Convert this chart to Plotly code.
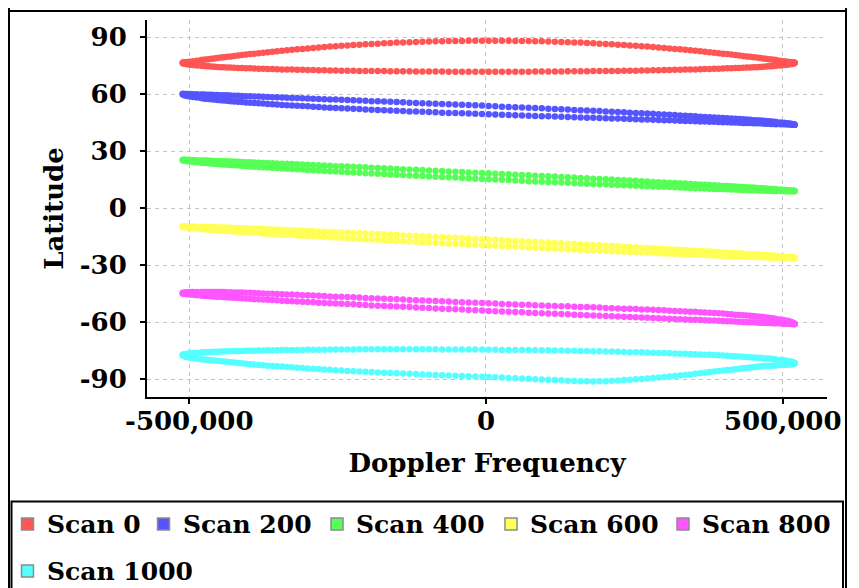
import plotly.graph_objects as go

# Doppler frequency of each sample (one sweep, right tip -> left tip)
DOPPLER = [520000, 519500, 518000, 515600, 512200, 507800, 502400, 496100, 488900, 480800,
           471700, 461800, 450900, 439300, 426800, 413500, 399400, 384600, 369000, 352800,
           335900, 318300, 300200, 281500, 262300, 242500, 222400, 201800, 180800, 159500,
           137900, 116100, 94000, 71800, 49400, 27000, 4500, -18000, -40400, -62800,
           -85000, -107100, -128900, -150500, -171800, -192800, -213400, -233500, -253300, -272500,
           -291200, -309300, -326900, -343800, -360000, -375600, -390400, -404500, -417800, -430300,
           -441900, -452800, -462700, -471800, -479900, -487100, -493400, -498800, -503200, -506600,
           -509000, -510500, -511000]
# extra samples in the sparser middle part of the sweep
DOPPLER_MID = [485000, 476300, 466800, 456500, 445200, 433100, 420200, 406500,
               392100, 376900, 361100, 344400, 327200, 309300, 290900, 271900, 252500, 232500,
               212100, 191300, 170200, 148800, 127000, 105100, 82900, 60600, 38200, 15700,
               -6700, -29200, -51600, -73900, -96100, -118000, -139800, -161200, -182300, -203100,
               -223500, -243500, -262900, -281900, -300300, -318200, -335400, -352100, -367900, -383100,
               -397500, -411200, -424100, -436200, -447500, -457800, -467300, -476000]

SCAN0_UPPER = [76.6, 76.6, 76.7, 76.8, 77.0, 77.1, 77.4, 77.6, 78.0, 78.3, 78.7, 79.1, 79.5, 79.9, 80.4,
               80.9, 81.4, 81.9, 82.4, 82.9, 83.4, 83.9, 84.4, 84.9, 85.3, 85.7, 86.1, 86.5, 86.8, 87.2,
               87.4, 87.7, 87.9, 88.0, 88.1, 88.2, 88.2, 88.2, 88.1, 88.0, 87.9, 87.7, 87.4, 87.2, 86.8,
               86.5, 86.1, 85.7, 85.3, 84.9, 84.4, 83.9, 83.4, 82.9, 82.4, 81.9, 81.4, 80.9, 80.4, 79.9,
               79.5, 79.1, 78.7, 78.3, 78.0, 77.6, 77.4, 77.1, 77.0, 76.8, 76.7, 76.6, 76.6]
SCAN0_UPPER_MID = [78.15, 78.5, 78.9, 79.3, 79.7, 80.15, 80.65, 81.15,
                   81.65, 82.15, 82.65, 83.15, 83.65, 84.15, 84.65, 85.1, 85.5, 85.9, 86.3, 86.65, 87.0, 87.3,
                   87.55, 87.8, 87.95, 88.05, 88.15, 88.2, 88.2, 88.15, 88.05, 87.95, 87.8, 87.55, 87.3, 87.0,
                   86.65, 86.3, 85.9, 85.5, 85.1, 84.65, 84.15, 83.65, 83.15, 82.65, 82.15, 81.65,
                   81.15, 80.65, 80.15, 79.7, 79.3, 78.9, 78.5, 78.15]
SCAN0_LOWER = [76.6, 76.4, 76.2, 76.0, 75.8, 75.6, 75.4, 75.2, 75.0, 74.8, 74.6, 74.4, 74.2, 74.1, 73.9,
               73.7, 73.6, 73.4, 73.3, 73.1, 73.0, 72.9, 72.8, 72.6, 72.5, 72.4, 72.3, 72.3, 72.2, 72.1,
               72.1, 72.0, 72.0, 71.9, 71.9, 71.9, 71.9, 71.9, 71.9, 71.9, 72.0, 72.0, 72.1, 72.1, 72.2,
               72.3, 72.3, 72.4, 72.5, 72.6, 72.8, 72.9, 73.0, 73.1, 73.3, 73.4, 73.6, 73.7, 73.9, 74.1,
               74.2, 74.4, 74.6, 74.8, 75.0, 75.2, 75.4, 75.6, 75.8, 76.0, 76.2, 76.4, 76.6]
SCAN0_LOWER_MID = [74.9, 74.7, 74.5, 74.3, 74.15, 74.0, 73.8, 73.65,
                   73.5, 73.35, 73.2, 73.05, 72.95, 72.85, 72.7, 72.55, 72.45, 72.35, 72.3, 72.25, 72.15, 72.1,
                   72.05, 72.0, 71.95, 71.9, 71.9, 71.9, 71.9, 71.9, 71.9, 71.95, 72.0, 72.05, 72.1, 72.15,
                   72.25, 72.3, 72.35, 72.45, 72.55, 72.7, 72.85, 72.95, 73.05, 73.2, 73.35, 73.5,
                   73.65, 73.8, 74.0, 74.15, 74.3, 74.5, 74.7, 74.9]

SCAN200_UPPER = [44.0, 44.1, 44.3, 44.4, 44.6, 44.8, 45.0, 45.2, 45.4, 45.7, 45.9, 46.2, 46.4, 46.7, 47.0,
                 47.2, 47.5, 47.8, 48.1, 48.4, 48.7, 49.1, 49.4, 49.7, 50.0, 50.3, 50.7, 51.0, 51.3, 51.6,
                 52.0, 52.3, 52.6, 52.9, 53.2, 53.5, 53.9, 54.2, 54.5, 54.8, 55.0, 55.3, 55.6, 55.9, 56.2,
                 56.4, 56.7, 57.0, 57.2, 57.4, 57.7, 57.9, 58.1, 58.3, 58.5, 58.7, 58.9, 59.0, 59.2, 59.4,
                 59.5, 59.6, 59.7, 59.8, 59.9, 60.0, 60.0, 60.1, 60.1, 60.1, 60.1, 60.1, 60.1]
SCAN200_UPPER_MID = [45.55, 45.8, 46.05, 46.3, 46.55, 46.85, 47.1, 47.35,
                     47.65, 47.95, 48.25, 48.55, 48.9, 49.25, 49.55, 49.85, 50.15, 50.5, 50.85, 51.15, 51.45, 51.8,
                     52.15, 52.45, 52.75, 53.05, 53.35, 53.7, 54.05, 54.35, 54.65, 54.9, 55.15, 55.45, 55.75, 56.05,
                     56.3, 56.55, 56.85, 57.1, 57.3, 57.55, 57.8, 58.0, 58.2, 58.4, 58.6, 58.8,
                     58.95, 59.1, 59.3, 59.45, 59.55, 59.65, 59.75, 59.85]
SCAN200_LOWER = [44.0, 44.0, 44.0, 44.0, 44.1, 44.1, 44.2, 44.3, 44.3, 44.4, 44.5, 44.7, 44.8, 44.9, 45.0,
                 45.2, 45.3, 45.5, 45.7, 45.8, 46.0, 46.2, 46.4, 46.6, 46.8, 47.0, 47.2, 47.4, 47.6, 47.8,
                 48.0, 48.3, 48.5, 48.7, 49.0, 49.2, 49.5, 49.7, 50.0, 50.2, 50.5, 50.8, 51.0, 51.3, 51.6,
                 51.9, 52.2, 52.5, 52.8, 53.1, 53.5, 53.8, 54.1, 54.4, 54.8, 55.1, 55.4, 55.7, 56.1, 56.4,
                 56.7, 57.0, 57.4, 57.7, 58.0, 58.3, 58.6, 58.9, 59.1, 59.4, 59.6, 59.9, 60.1]
SCAN200_LOWER_MID = [44.35, 44.45, 44.6, 44.75, 44.85, 44.95, 45.1, 45.25,
                     45.4, 45.6, 45.75, 45.9, 46.1, 46.3, 46.5, 46.7, 46.9, 47.1, 47.3, 47.5, 47.7, 47.9,
                     48.15, 48.4, 48.6, 48.85, 49.1, 49.35, 49.6, 49.85, 50.1, 50.35, 50.65, 50.9, 51.15, 51.45,
                     51.75, 52.05, 52.35, 52.65, 52.95, 53.3, 53.65, 53.95, 54.25, 54.6, 54.95, 55.25,
                     55.55, 55.9, 56.25, 56.55, 56.85, 57.2, 57.55, 57.85]

SCAN400_UPPER = [9.1, 9.2, 9.2, 9.3, 9.5, 9.6, 9.7, 9.9, 10.0, 10.2, 10.4, 10.6, 10.9, 11.1, 11.3,
                 11.6, 11.8, 12.1, 12.4, 12.7, 13.0, 13.3, 13.6, 13.9, 14.3, 14.6, 14.9, 15.3, 15.6, 16.0,
                 16.3, 16.7, 17.0, 17.4, 17.7, 18.1, 18.4, 18.7, 19.1, 19.4, 19.8, 20.1, 20.4, 20.7, 21.1,
                 21.4, 21.7, 22.0, 22.2, 22.5, 22.8, 23.0, 23.3, 23.5, 23.7, 23.9, 24.1, 24.3, 24.5, 24.7,
                 24.8, 24.9, 25.0, 25.1, 25.2, 25.3, 25.4, 25.4, 25.4, 25.5, 25.5, 25.4, 25.4]
SCAN400_UPPER_MID = [10.1, 10.3, 10.5, 10.75, 11.0, 11.2, 11.45, 11.7,
                     11.95, 12.25, 12.55, 12.85, 13.15, 13.45, 13.75, 14.1, 14.45, 14.75, 15.1, 15.45, 15.8, 16.15,
                     16.5, 16.85, 17.2, 17.55, 17.9, 18.25, 18.55, 18.9, 19.25, 19.6, 19.95, 20.25, 20.55, 20.9,
                     21.25, 21.55, 21.85, 22.1, 22.35, 22.65, 22.9, 23.15, 23.4, 23.6, 23.8, 24.0,
                     24.2, 24.4, 24.6, 24.75, 24.85, 24.95, 25.05, 25.15]
SCAN400_LOWER = [9.1, 9.1, 9.0, 9.0, 9.0, 9.0, 9.0, 9.1, 9.1, 9.2, 9.3, 9.4, 9.5, 9.6, 9.8,
                 9.9, 10.1, 10.2, 10.4, 10.6, 10.8, 11.1, 11.3, 11.5, 11.8, 12.0, 12.3, 12.6, 12.8, 13.1,
                 13.4, 13.7, 14.0, 14.3, 14.7, 15.0, 15.3, 15.6, 16.0, 16.3, 16.6, 17.0, 17.3, 17.7, 18.0,
                 18.3, 18.7, 19.0, 19.4, 19.7, 20.0, 20.4, 20.7, 21.0, 21.3, 21.6, 21.9, 22.2, 22.5, 22.8,
                 23.1, 23.3, 23.6, 23.8, 24.0, 24.3, 24.5, 24.6, 24.8, 25.0, 25.1, 25.3, 25.4]
SCAN400_LOWER_MID = [9.15, 9.25, 9.35, 9.45, 9.55, 9.7, 9.85, 10.0,
                     10.15, 10.3, 10.5, 10.7, 10.95, 11.2, 11.4, 11.65, 11.9, 12.15, 12.45, 12.7, 12.95, 13.25,
                     13.55, 13.85, 14.15, 14.5, 14.85, 15.15, 15.45, 15.8, 16.15, 16.45, 16.8, 17.15, 17.5, 17.85,
                     18.15, 18.5, 18.85, 19.2, 19.55, 19.85, 20.2, 20.55, 20.85, 21.15, 21.45, 21.75,
                     22.05, 22.35, 22.65, 22.95, 23.2, 23.45, 23.7, 23.9]

SCAN600_UPPER = [-26.0, -25.9, -25.8, -25.7, -25.6, -25.5, -25.4, -25.2, -25.0, -24.8, -24.6, -24.4, -24.2, -24.0, -23.7,
                 -23.5, -23.2, -22.9, -22.6, -22.3, -22.0, -21.7, -21.4, -21.0, -20.7, -20.4, -20.0, -19.7, -19.3, -19.0,
                 -18.6, -18.2, -17.9, -17.5, -17.2, -16.8, -16.4, -16.1, -15.7, -15.4, -15.1, -14.7, -14.4, -14.1, -13.7,
                 -13.4, -13.1, -12.8, -12.6, -12.3, -12.0, -11.8, -11.5, -11.3, -11.1, -10.9, -10.7, -10.5, -10.4, -10.2,
                 -10.1, -10.0, -9.9, -9.8, -9.7, -9.7, -9.6, -9.6, -9.6, -9.6, -9.6, -9.6, -9.7]
SCAN600_UPPER_MID = [-24.9, -24.7, -24.5, -24.3, -24.1, -23.85, -23.6, -23.35,
                     -23.05, -22.75, -22.45, -22.15, -21.85, -21.55, -21.2, -20.85, -20.55, -20.2, -19.85, -19.5, -19.15,
                     -18.8, -18.4, -18.05, -17.7, -17.35, -17.0, -16.6, -16.25, -15.9, -15.55, -15.25, -14.9, -14.55,
                     -14.25, -13.9, -13.55, -13.25, -12.95, -12.7, -12.45, -12.15, -11.9, -11.65, -11.4, -11.2, -11.0, -10.8,
                     -10.6, -10.45, -10.3, -10.15, -10.05, -9.95, -9.85, -9.75]
SCAN600_LOWER = [-26.0, -26.1, -26.1, -26.1, -26.1, -26.1, -26.1, -26.0, -26.0, -25.9, -25.8, -25.7, -25.6, -25.5, -25.3,
                 -25.2, -25.0, -24.8, -24.6, -24.4, -24.2, -24.0, -23.8, -23.5, -23.2, -23.0, -22.7, -22.4, -22.1, -21.8,
                 -21.5, -21.2, -20.9, -20.6, -20.2, -19.9, -19.6, -19.2, -18.9, -18.5, -18.2, -17.8, -17.5, -17.1, -16.8,
                 -16.4, -16.1, -15.7, -15.4, -15.1, -14.7, -14.4, -14.1, -13.8, -13.5, -13.2, -12.9, -12.6, -12.3, -12.0,
                 -11.8, -11.5, -11.3, -11.1, -10.9, -10.7, -10.5, -10.3, -10.2, -10.0, -9.9, -9.8, -9.7]
SCAN600_LOWER_MID = [-25.95, -25.85, -25.75, -25.65, -25.55, -25.4, -25.25, -25.1,
                     -24.9, -24.7, -24.5, -24.3, -24.1, -23.9, -23.65, -23.35, -23.1, -22.85, -22.55, -22.25, -21.95,
                     -21.65, -21.35, -21.05, -20.75, -20.4, -20.05, -19.75, -19.4, -19.05, -18.7, -18.35, -18.0, -17.65,
                     -17.3, -16.95, -16.6, -16.25, -15.9, -15.55, -15.25, -14.9, -14.55, -14.25, -13.95, -13.65, -13.35, -13.05,
                     -12.75, -12.45, -12.15, -11.9, -11.65, -11.4, -11.2, -11.0]

SCAN800_UPPER = [-60.9, -60.6, -60.3, -59.9, -59.6, -59.2, -58.9, -58.5, -58.2, -57.8, -57.4, -57.1, -56.7, -56.4, -56.1,
                 -55.8, -55.4, -55.1, -54.8, -54.5, -54.3, -54.0, -53.7, -53.4, -53.2, -52.9, -52.7, -52.4, -52.1, -51.9,
                 -51.6, -51.4, -51.1, -50.8, -50.6, -50.3, -50.0, -49.7, -49.4, -49.1, -48.8, -48.5, -48.2, -47.9, -47.6,
                 -47.3, -47.0, -46.7, -46.5, -46.2, -45.9, -45.7, -45.4, -45.2, -45.0, -44.8, -44.6, -44.4, -44.3, -44.2,
                 -44.1, -44.0, -44.0, -44.0, -44.0, -44.0, -44.0, -44.1, -44.2, -44.3, -44.4, -44.5, -44.7]
SCAN800_UPPER_MID = [-58.0, -57.6, -57.25, -56.9, -56.55, -56.25, -55.95, -55.6,
                     -55.25, -54.95, -54.65, -54.4, -54.15, -53.85, -53.55, -53.3, -53.05, -52.8, -52.55, -52.25, -52.0,
                     -51.75, -51.5, -51.25, -50.95, -50.7, -50.45, -50.15, -49.85, -49.55, -49.25, -48.95, -48.65, -48.35,
                     -48.05, -47.75, -47.45, -47.15, -46.85, -46.6, -46.35, -46.05, -45.8, -45.55, -45.3, -45.1, -44.9, -44.7,
                     -44.5, -44.35, -44.25, -44.15, -44.05, -44.0, -44.0, -44.0]
SCAN800_LOWER = [-60.9, -60.9, -60.9, -60.9, -60.8, -60.8, -60.7, -60.6, -60.5, -60.4, -60.3, -60.2, -60.0, -59.9, -59.7,
                 -59.5, -59.3, -59.1, -58.9, -58.7, -58.5, -58.2, -58.0, -57.7, -57.5, -57.2, -56.9, -56.7, -56.4, -56.1,
                 -55.8, -55.5, -55.2, -54.9, -54.6, -54.3, -54.0, -53.6, -53.3, -53.0, -52.7, -52.3, -52.0, -51.7, -51.4,
                 -51.1, -50.7, -50.4, -50.1, -49.8, -49.5, -49.2, -48.9, -48.6, -48.3, -48.0, -47.8, -47.5, -47.2, -47.0,
                 -46.7, -46.5, -46.3, -46.1, -45.9, -45.7, -45.5, -45.3, -45.2, -45.0, -44.9, -44.8, -44.7]
SCAN800_LOWER_MID = [-60.45, -60.35, -60.25, -60.1, -59.95, -59.8, -59.6, -59.4,
                     -59.2, -59.0, -58.8, -58.6, -58.35, -58.1, -57.85, -57.6, -57.35, -57.05, -56.8, -56.55, -56.25,
                     -55.95, -55.65, -55.35, -55.05, -54.75, -54.45, -54.15, -53.8, -53.45, -53.15, -52.85, -52.5, -52.15,
                     -51.85, -51.55, -51.25, -50.9, -50.55, -50.25, -49.95, -49.65, -49.35, -49.05, -48.75, -48.45, -48.15, -47.9,
                     -47.65, -47.35, -47.1, -46.85, -46.6, -46.4, -46.2, -46.0]

SCAN1000_UPPER = [-81.6, -81.3, -81.1, -80.8, -80.6, -80.3, -80.0, -79.8, -79.5, -79.2, -79.0, -78.7, -78.5, -78.2, -78.0,
                  -77.7, -77.5, -77.2, -77.0, -76.8, -76.6, -76.4, -76.2, -76.0, -75.8, -75.7, -75.5, -75.3, -75.2, -75.1,
                  -74.9, -74.8, -74.7, -74.6, -74.5, -74.5, -74.4, -74.3, -74.3, -74.3, -74.2, -74.2, -74.2, -74.2, -74.2,
                  -74.2, -74.2, -74.3, -74.3, -74.4, -74.4, -74.5, -74.5, -74.6, -74.7, -74.8, -74.9, -75.0, -75.1, -75.2,
                  -75.3, -75.5, -75.6, -75.7, -75.9, -76.0, -76.2, -76.3, -76.5, -76.7, -76.8, -77.0, -77.2]
SCAN1000_UPPER_MID = [-79.35, -79.1, -78.85, -78.6, -78.35, -78.1, -77.85, -77.6,
                      -77.35, -77.1, -76.9, -76.7, -76.5, -76.3, -76.1, -75.9, -75.75, -75.6, -75.4, -75.25, -75.15,
                      -75.0, -74.85, -74.75, -74.65, -74.55, -74.5, -74.45, -74.35, -74.3, -74.3, -74.25, -74.2, -74.2,
                      -74.2, -74.2, -74.2, -74.2, -74.25, -74.3, -74.35, -74.4, -74.45, -74.5, -74.55, -74.65, -74.75, -74.85,
                      -74.95, -75.05, -75.15, -75.25, -75.4, -75.55, -75.65, -75.8]
SCAN1000_LOWER = [-81.6, -81.7, -81.9, -82.0, -82.2, -82.3, -82.4, -82.5, -82.7, -82.8, -82.9, -83.2, -83.6, -84.0, -84.4,
                  -84.9, -85.4, -85.9, -86.5, -87.1, -87.7, -88.3, -88.8, -89.3, -89.8, -90.2, -90.6, -91.0, -91.1, -91.0,
                  -90.7, -90.4, -90.1, -89.7, -89.4, -89.1, -88.8, -88.5, -88.3, -88.0, -87.7, -87.4, -87.1, -86.8, -86.5,
                  -86.2, -85.9, -85.6, -85.2, -84.8, -84.4, -84.1, -83.7, -83.3, -83.0, -82.6, -82.2, -81.8, -81.4, -81.0,
                  -80.6, -80.2, -79.9, -79.7, -79.4, -79.1, -78.8, -78.6, -78.3, -78.0, -77.7, -77.5, -77.2]
SCAN1000_LOWER_MID = [-82.75, -82.85, -83.05, -83.4, -83.8, -84.2, -84.65, -85.15,
                      -85.65, -86.2, -86.8, -87.4, -88.0, -88.55, -89.05, -89.55, -90.0, -90.4, -90.8, -91.05, -91.05,
                      -90.85, -90.55, -90.25, -89.9, -89.55, -89.25, -88.95, -88.65, -88.4, -88.15, -87.85, -87.55, -87.25,
                      -86.95, -86.65, -86.35, -86.05, -85.75, -85.4, -85.0, -84.6, -84.25, -83.9, -83.5, -83.15, -82.8, -82.4,
                      -82.0, -81.6, -81.2, -80.8, -80.4, -80.05, -79.8, -79.55]

SCAN_NAMES = ["Scan 0", "Scan 200", "Scan 400", "Scan 600", "Scan 800", "Scan 1000"]
SCAN_COLORS = ["#FF5555", "#5555FF", "#55FF55", "#FFFF55", "#FF55FF", "#55FFFF"]
X_TICKS = [-500000, 0, 500000]
X_TICK_TEXT = ["-500,000", "0", "500,000"]
Y_TICKS = [-90, -60, -30, 0, 30, 60, 90]
Y_TICK_TEXT = ["-90", "-60", "-30", "0", "30", "60", "90"]

FONT = "DejaVu Serif"
W, H = 859, 588
PAGE_OFF = 8  # the html body margin shifts the figure by 8px
ML, MR, MT, MB = 139, 40, 12, 199

series = [
    (SCAN0_UPPER, SCAN0_UPPER_MID, SCAN0_LOWER, SCAN0_LOWER_MID),
    (SCAN200_UPPER, SCAN200_UPPER_MID, SCAN200_LOWER, SCAN200_LOWER_MID),
    (SCAN400_UPPER, SCAN400_UPPER_MID, SCAN400_LOWER, SCAN400_LOWER_MID),
    (SCAN600_UPPER, SCAN600_UPPER_MID, SCAN600_LOWER, SCAN600_LOWER_MID),
    (SCAN800_UPPER, SCAN800_UPPER_MID, SCAN800_LOWER, SCAN800_LOWER_MID),
    (SCAN1000_UPPER, SCAN1000_UPPER_MID, SCAN1000_LOWER, SCAN1000_LOWER_MID),
]

fig = go.Figure()
for name, color, (up, up_mid, lo, lo_mid) in zip(SCAN_NAMES, SCAN_COLORS, series):
    fig.add_trace(go.Scatter(
        x=DOPPLER + DOPPLER_MID + DOPPLER + DOPPLER_MID,
        y=up + up_mid + lo + lo_mid,
        mode="markers",
        marker=dict(size=6.5, color=color, line=dict(width=0)),
        name=name, showlegend=False, hoverinfo="skip",
    ))


def px_x(p):
    # page pixel column -> paper x
    return (p - PAGE_OFF - ML) / float(W - ML - MR)


def px_y(p):
    # page pixel row -> paper y
    return (H - MB - (p - PAGE_OFF)) / float(H - MT - MB)


frame = dict(color="black", width=2)
shapes = [
    dict(type="line", xref="paper", yref="paper", x0=px_x(9), x1=px_x(846), y0=px_y(11), y1=px_y(11), line=frame),
    dict(type="line", xref="paper", yref="paper", x0=px_x(9), x1=px_x(9), y0=px_y(0), y1=px_y(610), line=frame),
    dict(type="line", xref="paper", yref="paper", x0=px_x(846), x1=px_x(846), y0=px_y(0), y1=px_y(610), line=frame),
    dict(type="rect", xref="paper", yref="paper", x0=px_x(11.5), x1=px_x(843), y0=px_y(501.5), y1=px_y(620), line=frame),
]

# legend drawn as swatches + text (two rows, like the reference)
legend_pos = [(27.5, 524), (163.5, 524), (337, 524), (511, 524), (683, 524), (27.5, 571)]
annotations = [dict(text="[Latitude Scan (Hz)]", xref="paper", yref="paper", x=px_x(428), y=px_y(9.3),
                    xanchor="center", yanchor="bottom", showarrow=False,
                    font=dict(family=FONT, size=22, color="#aa1a1a", weight="bold"))]
for name, color, (cx, cy) in zip(SCAN_NAMES, SCAN_COLORS, legend_pos):
    shapes.append(dict(type="rect", xref="paper", yref="paper",
                       x0=px_x(cx - 6), x1=px_x(cx + 6), y0=px_y(cy + 6), y1=px_y(cy - 6),
                       fillcolor=color, line=dict(color="#8c8c8c", width=1.5)))
    annotations.append(dict(text=name, xref="paper", yref="paper", x=px_x(cx + 17), y=px_y(cy),
                            xanchor="left", yanchor="middle", showarrow=False,
                            font=dict(family=FONT, size=25, color="black", weight="bold")))

axis_font = dict(family=FONT, size=26, color="black", weight="bold")
fig.update_layout(
    width=W, height=H,
    margin=dict(l=ML, r=MR, t=MT, b=MB),
    paper_bgcolor="white", plot_bgcolor="white",
    font=dict(family=FONT, size=26, color="black", weight="bold"),
    showlegend=False,
    shapes=shapes,
    annotations=annotations,
)
fig.update_xaxes(
    range=[-571300, 574700], tickvals=X_TICKS, ticktext=X_TICK_TEXT, tickfont=axis_font,
    showgrid=True, gridcolor="#c4c4c4", gridwidth=1, griddash="4px,4px", zeroline=False,
    showline=True, linecolor="black", linewidth=2,
    ticks="outside", ticklen=5, tickwidth=2, tickcolor="black", ticklabelstandoff=-5,
    title=dict(text="Doppler Frequency", font=axis_font, standoff=19),
)
fig.update_yaxes(
    range=[-99.3, 99.1], tickvals=Y_TICKS, ticktext=Y_TICK_TEXT, tickfont=axis_font,
    showgrid=True, gridcolor="#c4c4c4", gridwidth=1, griddash="4px,4px", zeroline=False,
    showline=True, linecolor="black", linewidth=2,
    ticks="outside", ticklen=5, tickwidth=2, tickcolor="black", ticklabelstandoff=8,
    title=dict(text="Latitude", font=axis_font, standoff=9),
)

fig.write_html("out.html")
